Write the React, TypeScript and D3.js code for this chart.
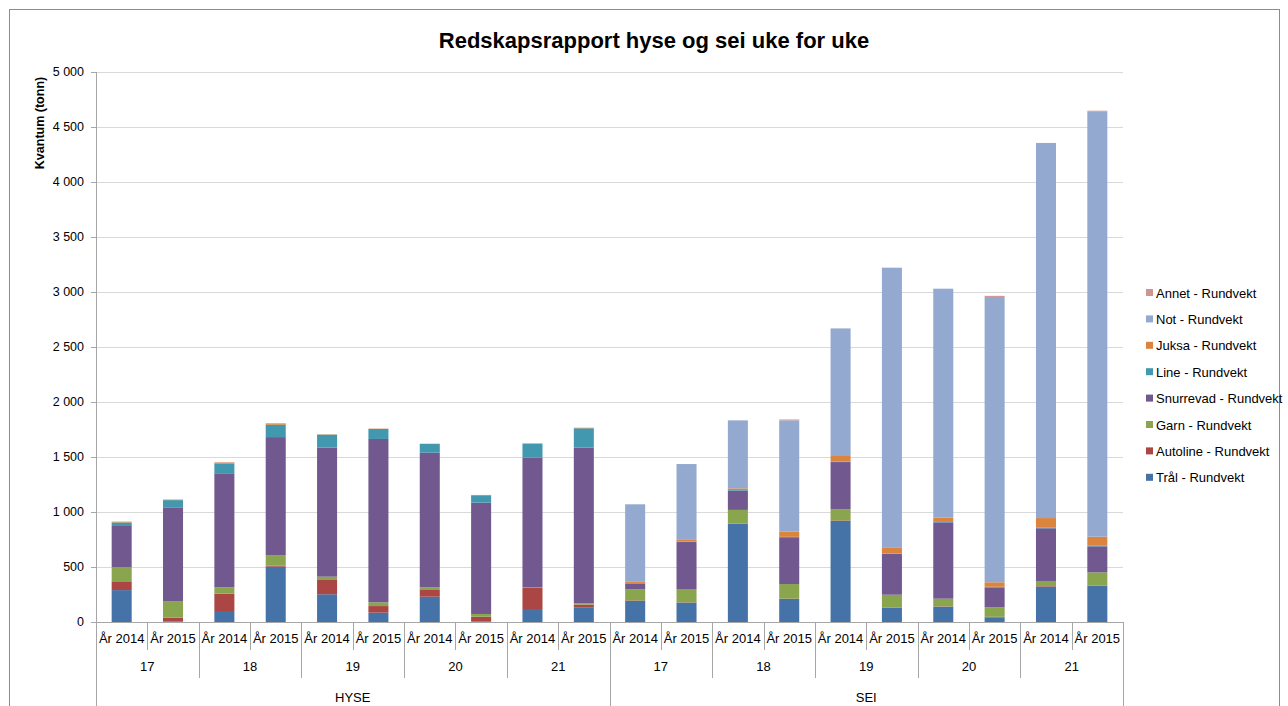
import React, { useEffect, useRef } from 'react';
import * as d3 from 'd3';

const species = ['HYSE', 'SEI'];
const weeks = ['17', '18', '19', '20', '21'];
const years = ['År 2014', 'År 2015'];

const seriesNames = [
  'Trål - Rundvekt',
  'Autoline - Rundvekt',
  'Garn - Rundvekt',
  'Snurrevad - Rundvekt',
  'Line - Rundvekt',
  'Juksa - Rundvekt',
  'Not - Rundvekt',
  'Annet - Rundvekt',
];
const seriesColors = ['#4572A7', '#AA4643', '#89A54E', '#71588F', '#4198AF', '#DB843D', '#93A9CF', '#D19392'];

// order: HYSE 17/2014, 17/2015, 18/2014 ... SEI 21/2015
const tral = [290, 5, 100, 503, 252, 85, 230, 5, 118, 130, 191, 176, 891, 209, 918, 130, 139, 42, 321, 327];
const autoline = [80, 35, 158, 10, 136, 60, 67, 43, 191, 28, 5, 3, 3, 3, 5, 3, 3, 5, 5, 3];
const garn = [130, 150, 57, 95, 24, 34, 18, 25, 5, 12, 100, 121, 125, 133, 100, 115, 70, 86, 47, 121];
const snurrevad = [380, 848, 1037, 1073, 1173, 1485, 1224, 1012, 1180, 1415, 54, 427, 176, 419, 431, 370, 694, 182, 479, 237];
const line = [25, 70, 90, 112, 118, 91, 79, 67, 127, 176, 5, 5, 5, 10, 5, 5, 10, 5, 5, 5];
const juksa = [5, 5, 8, 10, 3, 3, 3, 3, 3, 5, 10, 20, 15, 47, 50, 56, 32, 41, 88, 83];
const not = [0, 0, 0, 0, 0, 0, 0, 0, 0, 0, 705, 684, 618, 1012, 1160, 2542, 2082, 2594, 3410, 3867];
const annet = [3, 0, 3, 5, 0, 0, 0, 0, 0, 0, 0, 0, 0, 8, 0, 0, 0, 10, 0, 5];

const yTicks = [0, 500, 1000, 1500, 2000, 2500, 3000, 3500, 4000, 4500, 5000];

const FONT = '"Liberation Sans", Arial, sans-serif';

export default function App() {
  const ref = useRef<SVGSVGElement>(null);

  useEffect(() => {
    const svg = d3.select(ref.current);
    svg.selectAll('*').remove();

    const H = 706;
    const left = 96, right = 1123, top = 72, bottom = 622;

    const values = [tral, autoline, garn, snurrevad, line, juksa, not, annet];
    const cats: string[] = [];
    species.forEach(s => weeks.forEach(w => years.forEach(y => cats.push(s + '|' + w + '|' + y))));
    const rows = cats.map((c, i) => {
      const r: any = { key: c };
      seriesNames.forEach((n, j) => (r[n] = values[j][i]));
      return r;
    });
    const stacked = d3.stack().keys(seriesNames)(rows);

    const x = d3.scaleBand().domain(cats).range([left, right]).paddingInner(0.61).paddingOuter(0.305);
    const y = d3.scaleLinear().domain([0, 5000]).range([bottom, top]);
    const step = x.step();

    svg.append('rect').attr('x', 9.5).attr('y', 9.5).attr('width', 1270).attr('height', 720)
      .attr('fill', 'white').attr('stroke', '#8c8c8c');

    // gridlines
    svg.append('g').selectAll('line').data(yTicks.slice(1)).enter().append('line')
      .attr('x1', left).attr('x2', right)
      .attr('y1', d => Math.round(y(d)) + 0.5).attr('y2', d => Math.round(y(d)) + 0.5)
      .attr('stroke', '#d9d9d9');

    // bars
    svg.append('g').selectAll('g').data(stacked).enter().append('g')
      .attr('fill', (d, i) => seriesColors[i])
      .selectAll('rect').data(d => d.map((v, i) => ({ v, k: cats[i] }))).enter().append('rect')
      .attr('x', d => x(d.k)!)
      .attr('width', x.bandwidth())
      .attr('y', d => y(d.v[1]))
      .attr('height', d => Math.max(0, y(d.v[0]) - y(d.v[1])));

    // y axis
    const ya = svg.append('g');
    ya.append('line').attr('x1', left + 0.5).attr('x2', left + 0.5).attr('y1', top).attr('y2', H)
      .attr('stroke', '#a6a6a6');
    ya.selectAll('.tk').data(yTicks).enter().append('line')
      .attr('x1', left - 5).attr('x2', left)
      .attr('y1', d => Math.round(y(d)) + 0.5).attr('y2', d => Math.round(y(d)) + 0.5)
      .attr('stroke', '#a6a6a6');
    ya.selectAll('text').data(yTicks).enter().append('text')
      .attr('x', 84).attr('y', d => y(d)).attr('dy', '0.35em')
      .attr('text-anchor', 'end').attr('font-size', 12.5).attr('font-family', FONT).attr('fill', '#000')
      .text(d => d3.format(',')(d).replace(',', ' '));

    svg.append('text').attr('transform', 'translate(40,123) rotate(-90)')
      .attr('text-anchor', 'middle').attr('dy', '0.35em')
      .attr('font-size', 12.5).attr('font-weight', 'bold').attr('font-family', FONT)
      .text('Kvantum (tonn)');

    // x axis (multi-level)
    const xa = svg.append('g').attr('stroke', '#a6a6a6');
    xa.append('line').attr('x1', left).attr('x2', right).attr('y1', bottom + 0.5).attr('y2', bottom + 0.5);
    cats.forEach((c, i) => {
      const xb = Math.round(left + i * step) + 0.5;
      let y2 = 650;
      if (i % 2 === 0) y2 = 678;
      if (i % 10 === 0) y2 = H;
      xa.append('line').attr('x1', xb).attr('x2', xb).attr('y1', bottom).attr('y2', y2);
    });
    xa.append('line').attr('x1', right + 0.5).attr('x2', right + 0.5).attr('y1', bottom).attr('y2', H);

    const lab = svg.append('g').attr('font-family', FONT).attr('font-size', 13).attr('text-anchor', 'middle');
    cats.forEach(c => {
      const parts = c.split('|');
      lab.append('text').attr('x', x(c)! + x.bandwidth() / 2).attr('y', 638).attr('dy', '0.35em').text(parts[2]);
    });
    species.forEach((s, si) => weeks.forEach((w, wi) => {
      const cx = left + (si * 10 + wi * 2 + 1) * step;
      lab.append('text').attr('x', cx).attr('y', 666).attr('dy', '0.35em').text(w);
    }));
    species.forEach((s, si) => {
      const cx = left + (si * 10 + 5) * step;
      lab.append('text').attr('x', cx).attr('y', 697).attr('dy', '0.35em').text(s);
    });

    // title
    svg.append('text').attr('x', 654).attr('y', 40).attr('dy', '0.35em').attr('text-anchor', 'middle')
      .attr('font-family', FONT).attr('font-size', 22).attr('font-weight', 'bold')
      .text('Redskapsrapport hyse og sei uke for uke');

    // legend (reverse order)
    const lg = svg.append('g').attr('font-family', FONT).attr('font-size', 13);
    const legendItems = seriesNames.map((n, i) => ({ n, c: seriesColors[i] })).reverse();
    legendItems.forEach((d, i) => {
      const ly = 293 + i * 26.4;
      lg.append('rect').attr('x', 1146).attr('y', ly - 4).attr('width', 7).attr('height', 7).attr('fill', d.c);
      lg.append('text').attr('x', 1156).attr('y', ly).attr('dy', '0.35em').text(d.n);
    });
  }, []);

  return (
    <svg ref={ref} width={1288} height={706} style={{ position: 'absolute', left: 0, top: 0, background: 'white' }} />
  );
}
